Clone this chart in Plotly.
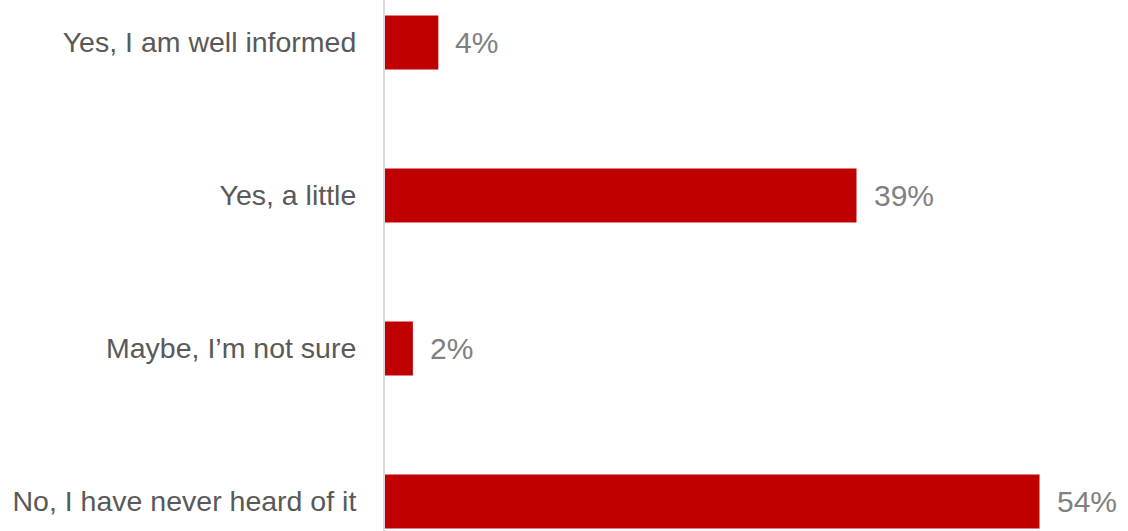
import plotly.graph_objects as go

categories = ["Yes, I am well informed", "Yes, a little", "Maybe, I’m not sure", "No, I have never heard of it"]
values = [4.4, 38.9, 2.3, 54.0]
labels = ["4%", "39%", "2%", "54%"]

BAR_COLOR = "#C00000"
CAT_COLOR = "#595959"
LBL_COLOR = "#808080"
FONT = "Liberation Sans, Arial, sans-serif"

fig = go.Figure()
fig.add_trace(go.Bar(
    x=values, y=categories, orientation="h",
    marker=dict(color=BAR_COLOR, line=dict(width=0)),
    width=0.353, hoverinfo="skip",
))

for c, v, t in zip(categories, values, labels):
    fig.add_annotation(x=v, y=c, text=t, showarrow=False, xanchor="left", yanchor="middle",
                       xshift=15, font=dict(family=FONT, size=30, color=LBL_COLOR))

fig.update_layout(
    width=1128, height=531,
    margin=dict(l=385, r=0, t=0, b=0),
    paper_bgcolor="white", plot_bgcolor="white",
    showlegend=False,
    font=dict(family=FONT),
    xaxis=dict(range=[0, 61.3], visible=False, showgrid=False, zeroline=False),
    yaxis=dict(
        type="category", categoryorder="array", categoryarray=categories,
        range=[3.1928, -0.2778],
        showline=True, linecolor="#D9D9D9", linewidth=2,
        ticks="", showgrid=False, zeroline=False, automargin=False,
        ticklabelstandoff=21,
        tickfont=dict(family=FONT, size=28.5, color=CAT_COLOR),
    ),
)

fig.write_html("out.html", config={"displayModeBar": False},
               post_script="document.body.style.margin='0';document.body.style.overflow='hidden';")
